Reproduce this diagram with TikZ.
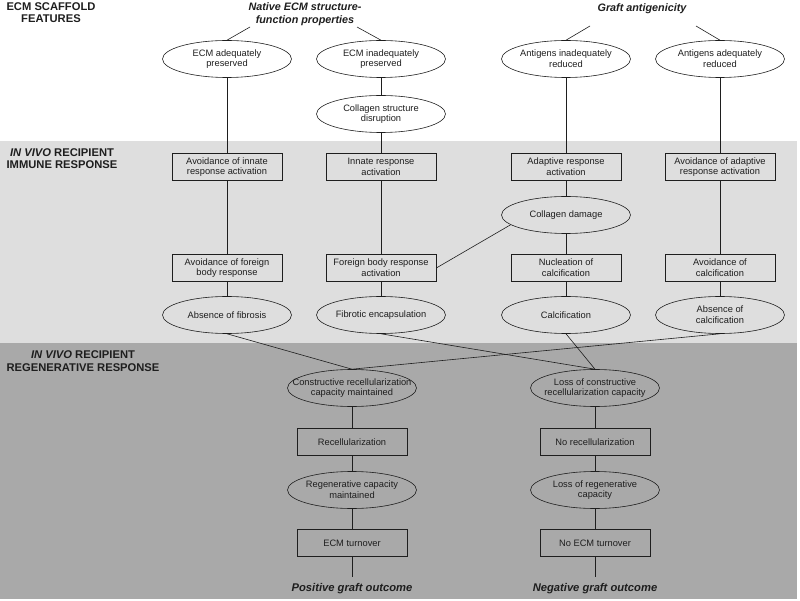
\documentclass[tikz,border=0pt]{standalone}
\usepackage{fontspec}
\setmainfont{Liberation Sans}
\usetikzlibrary{shapes.geometric}
\definecolor{bandlight}{HTML}{DEDEDE}
\definecolor{banddark}{HTML}{A9A9A9}
\definecolor{ink}{HTML}{1E1E1E}
\tikzset{
    oval/.style = {shape=ellipse,draw=ink,text=ink,line width=0.6pt,minimum width=129pt,minimum height=37pt,inner xsep=-30pt,inner ysep=0pt,align=center,font=\fontsize{9.3}{10.7}\selectfont},
    stepbox/.style = {draw=ink,text=ink,line width=0.6pt,minimum width=110pt,minimum height=27pt,inner sep=0pt,align=center,font=\fontsize{9.3}{10.7}\selectfont},
    link/.style = {draw=ink,line width=0.6pt},
    heading/.style = {text=ink,align=center,inner sep=0pt,font=\fontsize{11.2}{12.5}\selectfont\bfseries},
    topic/.style = {text=ink,align=center,inner sep=0pt,font=\fontsize{10.8}{12.5}\selectfont\bfseries\itshape}
}

\begin{document}
\begin{tikzpicture}[x=1pt,y=-1pt]
        \useasboundingbox (0,0) rectangle (800,601);
        % Bands
        \fill[bandlight] (0,141) rectangle (797,343);
        \fill[banddark] (0,343) rectangle (797,599);
        % Band labels
        \node[heading] (scaffold) at (51,12.5) {ECM SCAFFOLD\\FEATURES};
        \node[heading] (immune) at (62,158.5) {\textit{IN VIVO} RECIPIENT\\IMMUNE RESPONSE};
        \node[heading] (regenresp) at (83,361) {\textit{IN VIVO} RECIPIENT\\REGENERATIVE RESPONSE};
        % Scaffold features
        \node[topic] (native) at (305,14) {Native ECM structure-\\function properties};
        \node[topic] (antigen) at (642,9) {Graft antigenicity};
        \coordinate (nl) at (250,27);
        \coordinate (nr) at (357,27);
        \coordinate (gl) at (590,26);
        \coordinate (gr) at (696,26);
        \node[oval] (ecmok) at (227,59) {ECM adequately\\preserved};
        \node[oval] (ecmbad) at (381,59) {ECM inadequately\\preserved};
        \node[oval] (agbad) at (566,59) {Antigens inadequately\\reduced};
        \node[oval] (agok) at (720,59) {Antigens adequately\\reduced};
        \node[oval] (colldis) at (381,114) {Collagen structure\\disruption};
        % Immune response
        \node[stepbox] (innoff) at (227,167) {Avoidance of innate\\response activation};
        \node[stepbox] (innon) at (381,167) {Innate response\\activation};
        \node[stepbox] (adapon) at (566,167) {Adaptive response\\activation};
        \node[stepbox] (adapoff) at (720,167) {Avoidance of adaptive\\response activation};
        \node[oval] (colldam) at (566,215) {Collagen damage};
        \node[stepbox] (fboff) at (227,268) {Avoidance of foreign\\body response};
        \node[stepbox] (fbon) at (381,268) {Foreign body response\\activation};
        \node[stepbox] (nucl) at (566,268) {Nucleation of\\calcification};
        \node[stepbox] (calcoff) at (720,268) {Avoidance of\\calcification};
        \node[oval] (nofib) at (227,315) {Absence of fibrosis};
        \node[oval] (fibenc) at (381,315) {Fibrotic encapsulation};
        \node[oval] (calc) at (566,315) {Calcification};
        \node[oval] (nocalc) at (720,315) {Absence of\\calcification};
        % Regenerative response
        \node[oval] (recon) at (352,388) {Constructive recellularization\\capacity maintained};
        \node[oval] (reloss) at (595,388) {Loss of constructive\\recellularization capacity};
        \node[stepbox] (recell) at (352,442) {Recellularization};
        \node[stepbox] (norecell) at (595,442) {No recellularization};
        \node[oval] (regen) at (352,490) {Regenerative capacity\\maintained};
        \node[oval] (noregen) at (595,490) {Loss of regenerative\\capacity};
        \node[stepbox] (turn) at (352,543) {ECM turnover};
        \node[stepbox] (noturn) at (595,543) {No ECM turnover};
        \coordinate (posend) at (352,577);
        \coordinate (negend) at (595,577);
        \node[topic,font=\fontsize{11.2}{12.5}\selectfont\bfseries\itshape] (pos) at (352,589) {Positive graft outcome};
        \node[topic,font=\fontsize{11.2}{12.5}\selectfont\bfseries\itshape] (neg) at (595,589) {Negative graft outcome};
        % Connectors
        \foreach \src/\dest in {nl/ecmok.north,nr/ecmbad.north,gl/agbad.north,gr/agok.north,
                ecmok/innoff,innoff/fboff,fboff/nofib,
                ecmbad/colldis,colldis/innon,innon/fbon,fbon/fibenc,
                agbad/adapon,adapon/colldam,colldam/nucl,nucl/calc,colldam.190/fbon.east,
                agok/adapoff,adapoff/calcoff,calcoff/nocalc,
                nofib.south/recon.north,nocalc.south/recon.north,fibenc.south/reloss.north,calc.south/reloss.north,
                recon/recell,recell/regen,regen/turn,turn/posend,
                reloss/norecell,norecell/noregen,noregen/noturn,noturn/negend}
            \draw[link] (\src) to (\dest);
\end{tikzpicture}
\end{document}
